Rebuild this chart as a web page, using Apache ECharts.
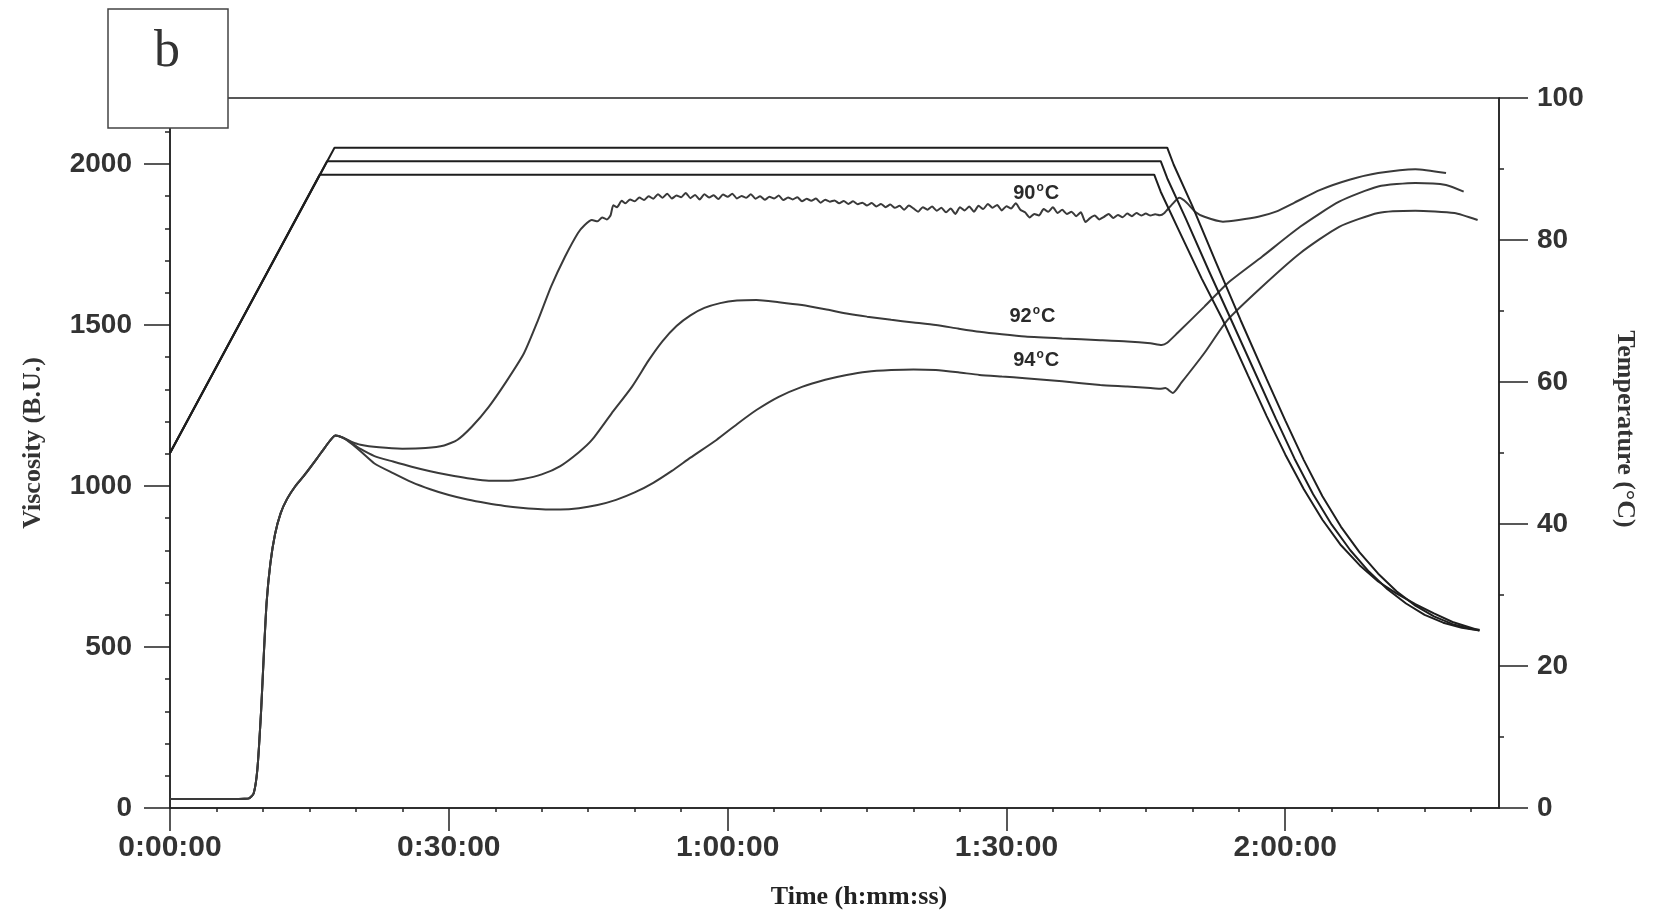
<!DOCTYPE html>
<html>
<head>
<meta charset="utf-8">
<title>Viscosity / temperature profile (b)</title>
<script src="https://cdn.jsdelivr.net/npm/echarts@6.0.0/dist/echarts.min.js"></script>
<style>
  html, body { margin: 0; padding: 0; background: #fff; }
  #chart { width: 1653px; height: 914px; }
</style>
</head>
<body>
<div id="chart"></div>
<script>
// ---- data (time in minutes, viscosity in B.U., temperature in °C) ----

// part shared by all three viscosity curves (they overlap up to the first peak)
const timeCommon = [0, 2, 4, 6, 8, 8.5, 9.0, 9.4, 9.8, 10.1, 10.4, 10.8, 11.3, 11.9, 12.6, 13.5, 14.5, 15.8, 16.8, 17.8, 18.6]
const viscCommon = [28, 28, 28, 28, 29, 30, 45, 120, 300, 480, 640, 760, 850, 915, 960, 1000, 1035, 1085, 1125, 1157, 1150]

// 90 °C curve
const time90 = [19.5, 20.5, 22.5, 25, 27.5, 29.5, 30.9, 32.5, 34.3, 36.2, 38.1, 39.6, 41, 42.5, 43.9, 44.6, 45.4, 46, 46.5, 47, 47.4, 47.7, 48.1, 48.6,
  49, 49.5, 50, 50.5, 51, 51.5, 52, 52.5, 53, 53.5, 54, 54.5, 55, 55.5, 56, 56.5, 57, 57.5, 58, 58.5, 59, 59.5,
  60, 60.5, 61, 61.5, 62, 62.5, 63, 63.5, 64, 64.5, 65, 65.5, 66, 66.5, 67, 67.5, 68, 68.5, 69, 69.5,
  70, 70.5, 71, 71.5, 72, 72.5, 73, 73.5, 74, 74.5, 75, 75.5, 76, 76.5, 77, 77.5, 78, 78.5, 79, 79.5,
  80, 80.5, 81, 81.5, 82, 82.5, 83, 83.5, 84, 84.5, 85, 85.5, 86, 86.5, 87, 87.5, 88, 88.5, 89, 89.5,
  90, 90.5, 91, 91.5, 92, 92.5, 93, 93.5, 94, 94.5, 95, 95.5, 96, 96.5, 97, 97.5, 98, 98.5, 99, 99.5,
  100, 100.5, 101, 101.5, 102, 102.5, 103, 103.5, 104, 104.5, 105, 105.5, 106, 106.5, 107,
  107.8, 108.6, 109.4, 110.3, 111.3, 113.3, 115, 117.1, 119, 121, 123.7, 127, 130, 134, 137.3]
const visc90 = [1138, 1128, 1120, 1116, 1118, 1126, 1143, 1185, 1246, 1325, 1413, 1515, 1619, 1712, 1786, 1810, 1826, 1822, 1834, 1828, 1840, 1872, 1866, 1886,
  1878, 1890, 1884, 1896, 1888, 1900, 1892, 1906, 1895, 1908, 1893, 1902, 1897, 1910, 1894, 1904, 1890, 1906, 1896, 1903, 1891, 1905,
  1898, 1908, 1893, 1901, 1895, 1906, 1892, 1900, 1889, 1898, 1893, 1902, 1888, 1896, 1890, 1897, 1884, 1892, 1886, 1893,
  1880, 1889, 1883, 1887, 1878, 1885, 1876, 1884, 1875, 1880, 1871, 1879, 1868, 1876, 1866, 1874, 1864, 1870, 1858, 1871,
  1862, 1852, 1866, 1858, 1868, 1855, 1864, 1850, 1862, 1845, 1866, 1856, 1868, 1852, 1870, 1860, 1876, 1864, 1873, 1856,
  1869, 1862, 1878, 1858, 1850, 1834, 1845, 1840, 1860, 1852, 1866, 1848, 1858, 1845, 1852, 1838, 1850, 1820, 1832, 1840,
  1828, 1836, 1845, 1832, 1842, 1835, 1846, 1838, 1848, 1840, 1846, 1840, 1844, 1841, 1848,
  1874, 1895, 1880, 1852, 1836, 1821, 1826, 1836, 1852, 1880, 1919, 1952, 1972, 1984, 1972]

// 92 °C curve
const time92 = [19.5, 20.5, 22, 24, 26, 28, 30, 32, 34, 36, 38, 40, 42, 44, 45.4, 47.5, 49.7, 51.5, 53, 54.5, 56, 57.5, 59.2, 61, 63.1,
  65.5, 68, 70.5, 72.8, 75, 77.6, 80, 82.4, 84.8, 87.1, 89.5, 92, 96, 100.1, 103, 105.5, 106.7,
  107.3, 108.4, 111.3, 113.8, 117.5, 121.6, 125.8, 130, 134, 137.3, 139.2]
const visc92 = [1135, 1115, 1093, 1076, 1060, 1046, 1034, 1024, 1017, 1016, 1022, 1036, 1062, 1105, 1143, 1225, 1308, 1390, 1450, 1497, 1530, 1553, 1568, 1576, 1578,
  1571, 1562, 1549, 1536, 1526, 1516, 1508, 1500, 1489, 1479, 1471, 1464, 1458, 1453, 1449, 1443, 1438,
  1445, 1475, 1557, 1630, 1712, 1805, 1883, 1930, 1941, 1935, 1914]

// 94 °C curve
const time94 = [19.5, 20.5, 22, 24, 26, 28, 30, 32, 34, 36, 38, 40, 42, 44, 46, 48, 50, 52, 54, 56, 58.8, 61, 63.1,
  65.5, 68, 70.5, 72.8, 75, 77.6, 80, 82.4, 84.8, 87.1, 89.5, 92, 96, 100.1, 103, 105.5, 106.5,
  107.1, 107.9, 108.8, 111.3, 113.8, 117.5, 121.6, 125.8, 130, 134, 138.2, 140.7]
const visc94 = [1132, 1108, 1070, 1040, 1012, 990, 972, 958, 947, 938, 932, 928, 927, 931, 941, 957, 980, 1010, 1047, 1088, 1143, 1192, 1236,
  1277, 1308, 1330, 1345, 1355, 1360, 1362, 1360, 1353, 1345, 1340, 1335, 1325, 1314, 1309, 1304, 1302,
  1304, 1289, 1320, 1413, 1516, 1619, 1723, 1805, 1848, 1855, 1848, 1826]

// temperature programmes (right axis)
const timeTempHigh = [0, 17.7, 107.3, 108.0, 110.0, 112.5, 115.2, 118, 120, 122, 124, 126, 128, 130, 132, 134, 136, 138, 140, 140.9]
const tempHigh = [50, 93.0, 93.0, 90.6, 84.8, 77.0, 68.7, 60.4, 54.6, 49.0, 43.9, 39.6, 36.0, 33.0, 30.5, 28.5, 27.0, 25.9, 25.2, 25.1]
const timeTempMid = [0, 16.9, 106.6, 107.3, 109.3, 111.8, 114.2, 117, 119, 121, 123, 125, 127, 129, 131, 133, 135, 137, 139, 140.9]
const tempMid = [50, 91.1, 91.1, 88.7, 83.0, 75.6, 68.7, 60.6, 54.8, 49.2, 44.2, 39.9, 36.3, 33.3, 30.8, 28.8, 27.2, 26.1, 25.4, 25.0]
const timeTempLow = [0, 16.1, 105.9, 106.6, 108.5, 111, 113.3, 116, 118, 120, 122, 124, 126, 128, 130, 132, 134, 136, 138, 140.9]
const tempLow = [50, 89.2, 89.2, 86.8, 81.5, 74.6, 68.7, 60.9, 55.2, 49.8, 44.9, 40.6, 37.0, 34.2, 31.9, 30.2, 28.7, 27.4, 26.2, 25.0]

// curve labels: text and where they sit [time, viscosity]
const curveLabels = ['90', '92', '94']
const curveLabelPos = [[93.2, 1910], [92.8, 1528], [93.2, 1391]]

// axis ticks
const timeTicks = [0, 30, 60, 90, 120]
const timeMinorTicks = [5, 10, 15, 20, 25, 35, 40, 45, 50, 55, 65, 70, 75, 80, 85, 95, 100, 105, 110, 115, 125, 130, 135, 140]
const viscTicks = [0, 500, 1000, 1500, 2000]
const viscMinorTicks = [100, 200, 300, 400, 600, 700, 800, 900, 1100, 1200, 1300, 1400, 1600, 1700, 1800, 1900, 2100]
const tempTicks = [0, 20, 40, 60, 80, 100]
const tempMinorTicks = [10, 30, 50, 70, 90]

// ---- helpers ----
const zip = (xs, ys) => xs.map((x, i) => [x, ys[i]])
const hms = m => {
  const h = Math.floor(m / 60)
  const mm = m % 60
  return h + ':' + (mm < 10 ? '0' : '') + mm + ':00'
}
const plain = v => String(v) // no thousands separator

const sansFont = '"Liberation Sans", Arial, sans-serif'
const narrowFont = '"Liberation Sans Narrow", "Liberation Sans", Arial, sans-serif'
const serifFont = '"Liberation Serif", "Times New Roman", serif'
const axisColor = '#222'
const labelColor = '#333'
const tickStyle = { color: axisColor, width: 1.5 }

const chartInstance = echarts.init(document.getElementById('chart'), null, { renderer: 'canvas' })

// viscosity series (left axis)
const viscSeries = [[time90, visc90], [time92, visc92], [time94, visc94]].map((pair, i) => ({
  name: curveLabels[i] + '°C',
  type: 'line',
  xAxisIndex: 0,
  yAxisIndex: 0,
  data: zip(timeCommon.concat(pair[0]), viscCommon.concat(pair[1])),
  showSymbol: false,
  smooth: 0.2,
  lineStyle: { color: '#3a3a3a', width: 2 },
  markPoint: {
    symbol: 'circle',
    symbolSize: 0,
    data: [{ coord: curveLabelPos[i] }],
    label: {
      show: true,
      position: 'inside',
      formatter: '{n|' + curveLabels[i] + '}{d|o}{n|C}',
      rich: {
        n: { fontFamily: narrowFont, fontWeight: 'bold', fontSize: 20, color: '#2a2a2a', lineHeight: 22 },
        d: { fontFamily: narrowFont, fontWeight: 'bold', fontSize: 12, color: '#2a2a2a', lineHeight: 12, verticalAlign: 'top', padding: [0, 1, 8, 1] },
      },
    },
  },
}))

// temperature series (right axis)
const tempSeries = [[timeTempHigh, tempHigh], [timeTempMid, tempMid], [timeTempLow, tempLow]].map(pair => ({
  type: 'line',
  xAxisIndex: 0,
  yAxisIndex: 1,
  data: zip(pair[0], pair[1]),
  showSymbol: false,
  lineStyle: { color: '#1e1e1e', width: 2 },
}))

const option = {
  animation: false,
  backgroundColor: '#fff',
  grid: {
    left: 170,
    right: 154,
    top: 98,
    bottom: 106,
    show: true, // the frame gives the top line
    borderColor: axisColor,
    borderWidth: 1.5,
    backgroundColor: 'transparent',
  },
  xAxis: [
    {
      type: 'value',
      min: 0,
      max: 143,
      position: 'bottom',
      axisLine: { show: true, onZero: false, lineStyle: { color: axisColor, width: 1.5 } },
      axisTick: { show: true, length: 23, customValues: timeTicks, lineStyle: tickStyle },
      axisLabel: {
        customValues: timeTicks,
        formatter: hms,
        margin: 25,
        fontFamily: sansFont,
        fontSize: 30,
        fontWeight: 'bold',
        color: labelColor,
      },
      splitLine: { show: false },
    },
    {
      // minor ticks every 5 min
      type: 'value',
      min: 0,
      max: 143,
      position: 'bottom',
      axisLine: { show: false, onZero: false },
      axisTick: { show: true, length: 4, customValues: timeMinorTicks, lineStyle: tickStyle },
      axisLabel: { show: false },
      splitLine: { show: false },
    },
  ],
  yAxis: [
    {
      type: 'value',
      min: 0,
      max: 2205,
      position: 'left',
      axisLine: { show: true, onZero: false, lineStyle: { color: axisColor, width: 1.5 } },
      axisTick: { show: true, length: 26, customValues: viscTicks, lineStyle: tickStyle },
      axisLabel: {
        customValues: viscTicks,
        formatter: plain,
        margin: 38,
        fontFamily: sansFont,
        fontSize: 28,
        fontWeight: 'bold',
        color: labelColor,
      },
      splitLine: { show: false },
    },
    {
      type: 'value',
      min: 0,
      max: 100,
      position: 'right',
      axisLine: { show: true, onZero: false, lineStyle: { color: axisColor, width: 1.5 } },
      axisTick: { show: true, length: 29, customValues: tempTicks, lineStyle: tickStyle },
      axisLabel: {
        customValues: tempTicks,
        formatter: plain,
        margin: 38,
        fontFamily: sansFont,
        fontSize: 28,
        fontWeight: 'bold',
        color: labelColor,
      },
      splitLine: { show: false },
    },
    {
      // left minor ticks
      type: 'value',
      min: 0,
      max: 2205,
      position: 'left',
      axisLine: { show: false, onZero: false },
      axisTick: { show: true, length: 5, customValues: viscMinorTicks, lineStyle: tickStyle },
      axisLabel: { show: false },
      splitLine: { show: false },
    },
    {
      // right minor ticks
      type: 'value',
      min: 0,
      max: 100,
      position: 'right',
      axisLine: { show: false, onZero: false },
      axisTick: { show: true, length: 5, customValues: tempMinorTicks, lineStyle: tickStyle },
      axisLabel: { show: false },
      splitLine: { show: false },
    },
  ],
  graphic: [
    // panel letter box, sits over the top-left corner of the frame
    {
      type: 'rect',
      z: 100,
      shape: { x: 108, y: 9, width: 120, height: 119 },
      style: { fill: '#fff', stroke: '#444', lineWidth: 1.5 },
    },
    {
      type: 'text',
      z: 101,
      x: 167,
      y: 52,
      style: { text: 'b', font: '52px ' + serifFont, align: 'center', verticalAlign: 'middle', fill: '#333' },
    },
    // axis titles
    {
      type: 'text',
      x: 33,
      y: 443,
      rotation: Math.PI / 2,
      style: { text: 'Viscosity (B.U.)', font: 'bold 26px ' + serifFont, align: 'center', verticalAlign: 'middle', fill: '#333' },
    },
    {
      type: 'text',
      x: 1625,
      y: 429,
      rotation: -Math.PI / 2,
      style: { text: 'Temperature (°C)', font: 'bold 26px ' + serifFont, align: 'center', verticalAlign: 'middle', fill: '#333' },
    },
    {
      type: 'text',
      x: 859,
      y: 897,
      style: { text: 'Time (h:mm:ss)', font: 'bold 26px ' + serifFont, align: 'center', verticalAlign: 'middle', fill: '#222' },
    },
  ],
  series: viscSeries.concat(tempSeries),
}

chartInstance.setOption(option)
</script>
</body>
</html>
